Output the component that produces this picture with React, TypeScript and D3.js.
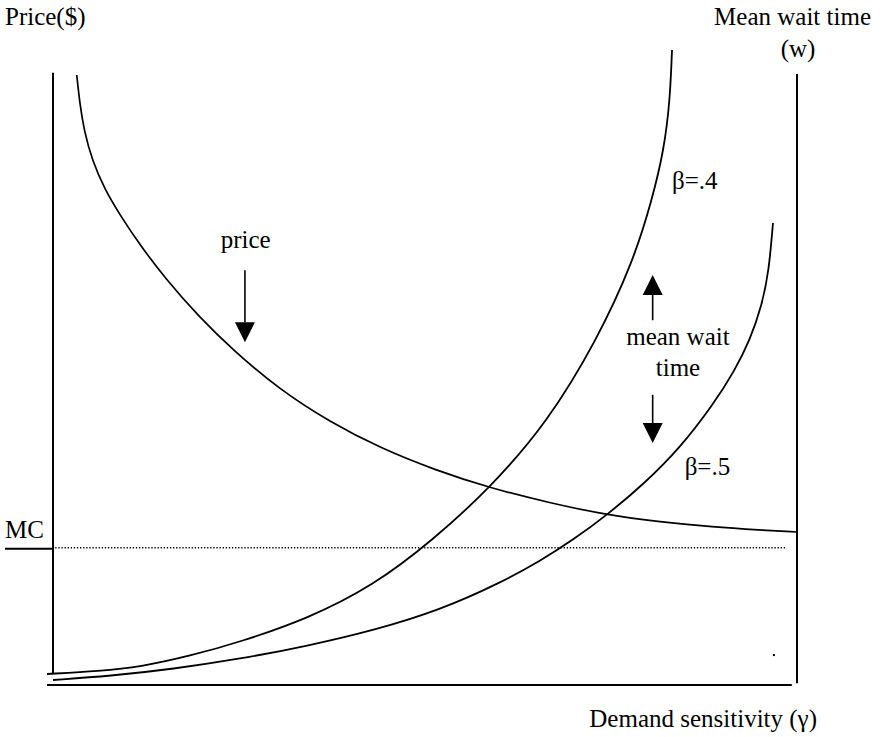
import React from "react";
import * as d3 from "d3";

const WIDTH = 888;
const HEIGHT = 737;

// Price curve (falls with demand sensitivity)
const priceX = [3.19, 3.63, 4.17, 5.24, 6.99, 9.01, 11.69, 15.05, 19.76, 24.19, 30.51, 37.23, 43.95, 51.34, 58.74, 66.8, 74.46, 81.59, 88.71, 95.03, 100];
const priceY = [99.84, 94.93, 90.83, 85.92, 81.01, 76.92, 72.01, 66.61, 60.07, 54.83, 48.28, 43.04, 38.79, 35.19, 32.24, 29.79, 27.82, 26.68, 25.86, 25.37, 25.04];

// Mean wait time, beta = .4
const beta4X = [-0.81, 6.32, 11.69, 18.41, 25.13, 34.14, 43.01, 51.08, 58.74, 66.4, 73.12, 77.96, 80.51, 82.12, 82.93, 83.2];
const beta4Y = [1.8, 2.29, 2.95, 4.75, 7.04, 10.8, 16.2, 23.73, 32.24, 42.88, 56.46, 69.23, 79.38, 87.56, 95.74, 103.93];

// Mean wait time, beta = .5
const beta5X = [0, 7.66, 16.13, 25.13, 34.14, 43.28, 52.02, 60.08, 65.46, 69.89, 74.46, 79.57, 84.27, 88.71, 91.67, 93.68, 95.3, 96.24, 96.77];
const beta5Y = [0.82, 1.47, 2.62, 4.26, 6.38, 9.0, 12.27, 16.69, 20.29, 23.73, 27.82, 33.06, 38.79, 45.83, 51.55, 56.46, 62.19, 67.92, 75.61];

const mcLevel = 22.3;

const curveLabels = ["β=.4", "β=.5"];
const axisTitles = ["Price($)", "Mean wait time", "(w)", "Demand sensitivity (γ)", "MC"];

const x = d3.scaleLinear().domain([0, 100]).range([53, 797]);
const y = d3.scaleLinear().domain([0, 100]).range([685, 74]);

const zip = (xs: number[], ys: number[]) => xs.map((v, i) => [v, ys[i]] as [number, number]);

const line = d3
  .line<[number, number]>()
  .x((d) => x(d[0]))
  .y((d) => y(d[1]))
  .curve(d3.curveBasis);

const FONT = "'Liberation Serif', 'Times New Roman', serif";
const FS = 25;

function Arrow({ xv, from, to }: { xv: number; from: number; to: number }) {
  const px = x(xv);
  const y0 = y(from);
  const y1 = y(to);
  const dir = y1 > y0 ? 1 : -1;
  const headLen = 20;
  const headHalf = 10;
  const base = y1 - dir * headLen;
  return (
    <g>
      <line x1={px} y1={y0} x2={px} y2={base} stroke="#000" strokeWidth={1.6} />
      <path d={`M${px - headHalf},${base} L${px + headHalf},${base} L${px},${y1} Z`} fill="#000" />
    </g>
  );
}

export default function App() {
  return (
    <svg
      width={WIDTH}
      height={HEIGHT}
      style={{ position: "absolute", left: 0, top: 0, background: "#fff" }}
      fontFamily={FONT}
      fontSize={FS}
    >
      <rect width={WIDTH} height={HEIGHT} fill="#fff" />
      {/* axes */}
      <line x1={x(0)} y1={y(100.2)} x2={x(0)} y2={y(1.8)} stroke="#000" strokeWidth={2} />
      <line x1={x(-0.8)} y1={y(0)} x2={x(99.3)} y2={y(0)} stroke="#000" strokeWidth={2} />
      <line x1={x(100)} y1={y(100)} x2={x(100)} y2={y(0.3)} stroke="#000" strokeWidth={2} />
      {/* MC tick and dotted line */}
      <line x1={x(0) - 48} y1={y(mcLevel)} x2={x(0)} y2={y(mcLevel)} stroke="#000" strokeWidth={2} />
      <line
        x1={x(0.3)}
        y1={y(mcLevel) - 1}
        x2={x(98.4)}
        y2={y(mcLevel) - 1}
        stroke="#000"
        strokeWidth={1.3}
        strokeDasharray="1.3,1.8"
      />
      {/* curves */}
      <path d={line(zip(priceX, priceY)) || ""} fill="none" stroke="#000" strokeWidth={1.7} />
      <path d={line(zip(beta4X, beta4Y)) || ""} fill="none" stroke="#000" strokeWidth={1.8} />
      <path d={line(zip(beta5X, beta5Y)) || ""} fill="none" stroke="#000" strokeWidth={1.8} />
      {/* small dot */}
      <rect x={x(96.9) - 1} y={y(4.9) - 1} width={2} height={2} fill="#000" />
      {/* arrows */}
      <Arrow xv={25.8} from={67.9} to={56.1} />
      <Arrow xv={80.6} from={59.7} to={67.1} />
      <Arrow xv={80.6} from={47.5} to={39.6} />
      {/* annotations */}
      <text x={x(25.9)} y={y(71.5)} textAnchor="middle">price</text>
      <text x={x(84)} y={y(55.6)} textAnchor="middle">mean wait</text>
      <text x={x(84)} y={y(50.5)} textAnchor="middle">time</text>
      <text x={x(83.2)} y={y(81.2)}>{curveLabels[0]}</text>
      <text x={x(84.9)} y={y(34.4)}>{curveLabels[1]}</text>
      {/* axis titles */}
      <text x={5} y={25}>{axisTitles[0]}</text>
      <text x={871} y={25} textAnchor="end">{axisTitles[1]}</text>
      <text x={798} y={57} textAnchor="middle">{axisTitles[2]}</text>
      <text x={817} y={727} textAnchor="end">{axisTitles[3]}</text>
      <text x={5} y={538}>{axisTitles[4]}</text>
    </svg>
  );
}
